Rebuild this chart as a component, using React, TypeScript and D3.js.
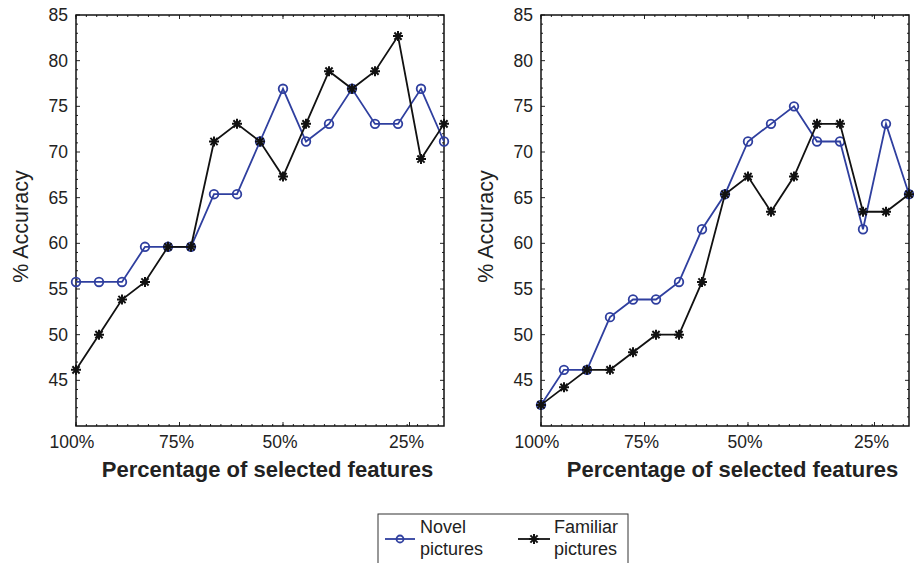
import React, { useRef, useEffect } from 'react';
import * as d3 from 'd3';

// 17 evaluation steps, from all features down to the fewest
const steps = d3.range(17);

const leftNovel = [55.77, 55.77, 55.77, 59.62, 59.62, 59.62, 65.38, 65.38, 71.15, 76.92, 71.15, 73.08, 76.92, 73.08, 73.08, 76.92, 71.15];
const leftFamiliar = [46.15, 50, 53.85, 55.77, 59.62, 59.62, 71.15, 73.08, 71.15, 67.31, 73.08, 78.85, 76.92, 78.85, 82.69, 69.23, 73.08];
const rightNovel = [42.31, 46.15, 46.15, 51.92, 53.85, 53.85, 55.77, 61.54, 65.38, 71.15, 73.08, 75, 71.15, 71.15, 61.54, 73.08, 65.38];
const rightFamiliar = [42.31, 44.23, 46.15, 46.15, 48.08, 50, 50, 55.77, 65.38, 67.31, 63.46, 67.31, 73.08, 73.08, 63.46, 63.46, 65.38];

const xTickLabels = ['100%', '75%', '50%', '25%'];
const xTickSteps = [0, 4.5, 9, 14.5];
const yTicks = [45, 50, 55, 60, 65, 70, 75, 80, 85];

const FONT = '"Liberation Sans", Arial, Helvetica, sans-serif';
const BLUE = '#2f3f9f';
const STAR = 'M-5,0H5M0,-5V5M-3.6,-3.6L3.6,3.6M-3.6,3.6L3.6,-3.6';

const App = () => {
  const ref = useRef(null);

  useEffect(() => {
    const svg = d3.select(ref.current)
      .attr('width', 914)
      .attr('height', 563)
      .style('background-color', 'white');

    svg.selectAll('*').remove();

    const top = 15, bottom = 426;
    const y = d3.scaleLinear().domain([40, 85]).range([bottom, top]);

    const drawPanel = (x0, x1, novel, familiar) => {
      const x = d3.scaleLinear().domain([0, 16]).range([x0, x1]);
      const g = svg.append('g');

      // inward ticks on all four sides
      const minorY = d3.range(40, 86, 1).filter(v => v % 5 !== 0);
      const minorX = d3.range(0, 16.01, 0.45);
      const tk = g.append('g').attr('stroke', '#222').attr('stroke-width', 1);
      minorY.forEach(v => {
        tk.append('line').attr('x1', x0).attr('x2', x0 + 2).attr('y1', y(v)).attr('y2', y(v));
        tk.append('line').attr('x1', x1).attr('x2', x1 - 2).attr('y1', y(v)).attr('y2', y(v));
      });
      yTicks.forEach(v => {
        tk.append('line').attr('x1', x0).attr('x2', x0 + 4).attr('y1', y(v)).attr('y2', y(v));
        tk.append('line').attr('x1', x1).attr('x2', x1 - 4).attr('y1', y(v)).attr('y2', y(v));
      });
      minorX.forEach(v => {
        tk.append('line').attr('x1', x(v)).attr('x2', x(v)).attr('y1', bottom).attr('y2', bottom - 2);
        tk.append('line').attr('x1', x(v)).attr('x2', x(v)).attr('y1', top).attr('y2', top + 2);
      });
      xTickSteps.forEach(v => {
        tk.append('line').attr('x1', x(v)).attr('x2', x(v)).attr('y1', bottom).attr('y2', bottom - 4);
        tk.append('line').attr('x1', x(v)).attr('x2', x(v)).attr('y1', top).attr('y2', top + 4);
      });

      g.append('rect')
        .attr('x', x0).attr('y', top)
        .attr('width', x1 - x0).attr('height', bottom - top)
        .attr('fill', 'none').attr('stroke', '#111').attr('stroke-width', 1.5);

      // tick labels
      g.selectAll('.ylab').data(yTicks).enter().append('text')
        .attr('x', x0 - 8).attr('y', d => y(d) + 6)
        .attr('text-anchor', 'end')
        .style('font-family', FONT).style('font-size', '17.5px').attr('fill', '#222')
        .text(d => d);
      g.selectAll('.xlab').data(xTickSteps).enter().append('text')
        .attr('x', (d, i) => x(d) - (i === 0 ? 4 : 3)).attr('y', 448)
        .attr('text-anchor', 'middle')
        .style('font-family', FONT).style('font-size', '17.5px').attr('fill', '#222')
        .text((d, i) => xTickLabels[i]);

      // axis titles
      g.append('text')
        .attr('x', (x0 + x1) / 2 + 7.5).attr('y', 477)
        .attr('text-anchor', 'middle')
        .style('font-family', FONT).style('font-size', '22px').style('font-weight', 'bold').attr('fill', '#222')
        .text('Percentage of selected features');
      g.append('g').attr('transform', `translate(${x0 - 48}, ${(top + bottom) / 2 + 6})`).append('text')
        .attr('transform', 'rotate(-90)')
        .attr('text-anchor', 'middle')
        .style('font-family', FONT).style('font-size', '21.5px').attr('fill', '#222')
        .text('% Accuracy');

      const line = d3.line()
        .x((d, i) => x(steps[i]))
        .y(d => y(d))
        .curve(d3.curveLinear);

      g.append('path').datum(novel).attr('d', line)
        .style('fill', 'none').style('stroke', BLUE).style('stroke-width', 1.8);
      g.append('g').selectAll('circle').data(novel).enter().append('circle')
        .attr('cx', (d, i) => x(steps[i])).attr('cy', d => y(d)).attr('r', 4.3)
        .style('fill', 'none').style('stroke', BLUE).style('stroke-width', 1.8);

      g.append('path').datum(familiar).attr('d', line)
        .style('fill', 'none').style('stroke', '#111').style('stroke-width', 1.8);
      g.append('g').selectAll('path').data(familiar).enter().append('path')
        .attr('transform', (d, i) => `translate(${x(steps[i])},${y(d)})`)
        .attr('d', STAR)
        .style('fill', 'none').style('stroke', '#111').style('stroke-width', 2);
    };

    drawPanel(76, 444, leftNovel, leftFamiliar);
    drawPanel(541, 909, rightNovel, rightFamiliar);

    // legend
    const lg = svg.append('g');
    lg.append('rect').attr('x', 378).attr('y', 514).attr('width', 250).attr('height', 60)
      .attr('fill', 'white').attr('stroke', '#333').attr('stroke-width', 1);
    lg.append('line').attr('x1', 385).attr('x2', 415).attr('y1', 539).attr('y2', 539)
      .style('stroke', BLUE).style('stroke-width', 1.8);
    lg.append('circle').attr('cx', 400).attr('cy', 539).attr('r', 3.5)
      .style('fill', 'none').style('stroke', BLUE).style('stroke-width', 1.8);
    lg.append('line').attr('x1', 518).attr('x2', 550).attr('y1', 539).attr('y2', 539)
      .style('stroke', '#111').style('stroke-width', 1.8);
    lg.append('path').attr('transform', 'translate(534,539)').attr('d', STAR)
      .style('fill', 'none').style('stroke', '#111').style('stroke-width', 2);
    [['Novel', 'pictures', 420], ['Familiar', 'pictures', 554]].forEach(([a, b, tx]) => {
      const t = lg.append('text').attr('x', tx).attr('y', 533)
        .style('font-family', FONT).style('font-size', '18px').attr('fill', '#222');
      t.append('tspan').attr('x', tx).attr('y', 533).text(a);
      t.append('tspan').attr('x', tx).attr('y', 555).text(b);
    });
  }, []);

  return (
    <svg ref={ref} style={{ position: 'absolute', left: 0, top: 0 }}></svg>
  );
};

export default App;
